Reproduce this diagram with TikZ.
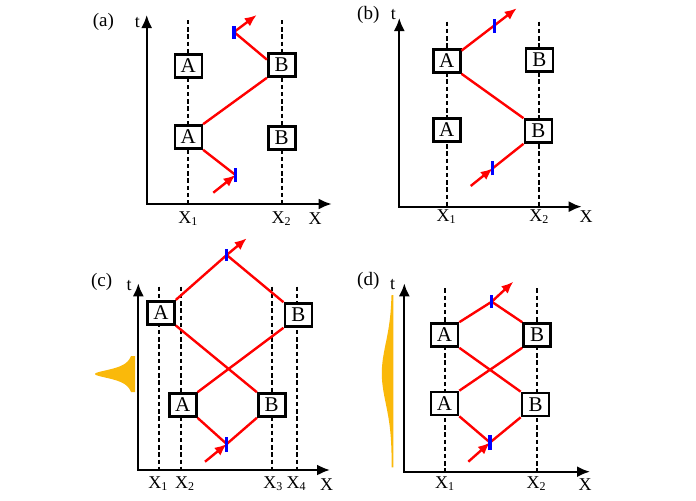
\documentclass[tikz,border=0pt]{standalone}
\usepackage{fontspec}
\setmainfont{Liberation Serif}
\usetikzlibrary{arrows.meta}

\definecolor{pulse}{RGB}{250,185,10}

\tikzset{
	box/.style={draw, line width=1.3pt, fill=white, minimum width=13.5pt, minimum height=11.5pt, inner sep=0pt, font=\fontsize{10.5}{11}\selectfont},
	taxis/.style={line width=1.1pt, {Latex[length=6.5pt,width=5.5pt]}-{Latex[length=6.5pt,width=5.5pt]}},
	dline/.style={line width=0.9pt, dash pattern=on 2.2pt off 1.4pt},
	ray/.style={red, line width=1.2pt},
	rayin/.style={ray, -{Latex[length=6pt,width=5pt]}},
	blip/.style={blue, line width=1.7pt},
	lbl/.style={anchor=base, inner sep=0pt, font=\fontsize{9}{10}\selectfont},
	tag/.style={anchor=base, inner sep=0pt, font=\fontsize{9.5}{10}\selectfont},
}

\begin{document}
\begin{tikzpicture}[x=0.5pt,y=0.5pt]
	\useasboundingbox (0,0) rectangle (696,500);
	
	% (a)
	\coordinate (aO) at (146.7,296);
	\coordinate (aT) at (146.7,485);
	\coordinate (aX) at (331.7,296);
	\foreach \x in {188.3,281.7} \draw[dline] (\x,480) -- (\x,296);
	\draw[taxis] (aT) -- (aO) -- (aX);
	
	\node[box] (aA1) at (188.3,363) {A};
	\node[box] (aA2) at (188.3,434) {A};
	\node[box] (aB1) at (281.7,362) {B};
	\node[box] (aB2) at (281.7,435) {B};
	
	\coordinate (aS) at (213.3,307.3);
	\coordinate (aT1) at (235.5,325);
	\coordinate (aT2) at (234,468);
	\coordinate (aE) at (256.7,485);
	\draw[rayin] (aS) -- (aT1);
	\draw[ray] (aT1) -- (aA1.south east);
	\draw[ray] (aA1.north east) -- (aB2.south west);
	\draw[ray] (aB2.160) -- (aT2);
	\draw[rayin] (aT2) -- (aE);
	\draw[blip] (aT1) ++(0,-7) -- ++(0,14);
	\draw[blip] (aT2) ++(0,-6.5) -- ++(0,13);
	
	\node[tag] (aL) at (103.3,473.3) {(a)};
	\node[lbl] (at) at (137.3,473) {t};
	\node[lbl] (ax1) at (188.3,277) {X\textsubscript{1}};
	\node[lbl] (ax2) at (281.7,277) {X\textsubscript{2}};
	\node[lbl] (ax) at (315,276) {X};
	
	% (b)
	\coordinate (bO) at (399.3,293.3);
	\coordinate (bT) at (399.3,482);
	\coordinate (bX) at (581.7,293.3);
	\foreach \x in {446.7,539.3} \draw[dline] (\x,478.3) -- (\x,293.3);
	\draw[taxis] (bT) -- (bO) -- (bX);
	
	\node[box] (bA1) at (446.7,370) {A};
	\node[box] (bA2) at (446.7,439) {A};
	\node[box] (bB1) at (538.3,369) {B};
	\node[box] (bB2) at (539.3,440) {B};
	
	\coordinate (bS) at (470.7,314);
	\coordinate (bT1) at (492.7,331.7);
	\coordinate (bT2) at (494.3,474.5);
	\coordinate (bE) at (516.7,491.7);
	\draw[rayin] (bS) -- (bT1);
	\draw[ray] (bT1) -- (bB1.south west);
	\draw[ray] (bA2.south east) -- (bB1.north west);
	\draw[ray] (bA2.35) -- (bT2);
	\draw[rayin] (bT2) -- (bE);
	\draw[blip] (bT1) ++(0,-7) -- ++(0,14);
	\draw[blip] (bT2) ++(0,-7) -- ++(0,14);
	
	\node[tag] (bL) at (368.3,480.7) {(b)};
	\node[lbl] (bt) at (393.3,480.7) {t};
	\node[lbl] (bx1) at (446.7,278.3) {X\textsubscript{1}};
	\node[lbl] (bx2) at (539.3,278.3) {X\textsubscript{2}};
	\node[lbl] (bx) at (586,277.3) {X};
	
	% (c)
	\fill[pulse] (135,144) -- plot[domain=18:-18, samples=61] ({135-40/(1+(\x/6)*(\x/6))}, {126+\x}) -- (135,108) -- cycle;
	\coordinate (cO) at (138.3,30);
	\coordinate (cT) at (138.3,216.7);
	\coordinate (cX) at (330,30);
	\foreach \x in {159.3,181,272.3,297.3} \draw[dline] (\x,213.3) -- (\x,30);
	\draw[taxis] (cT) -- (cO) -- (cX);
	
	\node[box] (cA1) at (182.7,95) {A};
	\node[box] (cA2) at (161,187.3) {A};
	\node[box] (cB1) at (271.7,95) {B};
	\node[box] (cB2) at (298.3,185) {B};
	
	\coordinate (cS) at (205,38.3);
	\coordinate (cT1) at (226.7,56);
	\coordinate (cT2) at (226.7,245);
	\coordinate (cE) at (246.7,261.7);
	\draw[ray] (cA2.north east) -- (cT2) -- (cB2.north west);
	\draw[rayin] (cT2) -- (cE);
	\draw[ray] (cB2.south west) -- (cA1.north east);
	\draw[ray] (cA2.south east) -- (cB1.north west);
	\draw[ray] (cA1.south east) -- (cT1) -- (cB1.south west);
	\draw[rayin] (cS) -- (cT1);
	\draw[blip] (cT1) ++(0,-7.5) -- ++(0,15);
	\draw[blip] (cT2) ++(0,-6) -- ++(0,12);
	
	\node[tag] (cL) at (101.7,214) {(c)};
	\node[lbl] (ct) at (129,210) {t};
	\node[lbl] (cx1) at (158.3,11.7) {X\textsubscript{1}};
	\node[lbl] (cx2) at (185,11.7) {X\textsubscript{2}};
	\node[lbl] (cx3) at (273.3,11.7) {X\textsubscript{3}};
	\node[lbl] (cx4) at (296.7,11.7) {X\textsubscript{4}};
	\node[lbl] (cx) at (326.7,10) {X};
	
	% (d)
	\fill[pulse] (393.3,205) -- plot[domain=78:-94, samples=90] ({391.8-10*exp(-(\x*\x)/1800)}, {126.7+\x}) -- (393.3,32.7) -- cycle;
	\coordinate (dO) at (404.3,28.3);
	\coordinate (dT) at (404.3,216.7);
	\coordinate (dX) at (590,28.3);
	\foreach \x in {445,536.7} \draw[dline] (\x,211.7) -- (\x,28.3);
	\draw[taxis] (dT) -- (dO) -- (dX);
	
	\node[box] (dA1) at (444.5,96.5) {A};
	\node[box] (dA2) at (444.5,165) {A};
	\node[box] (dB1) at (535.5,95.5) {B};
	\node[box] (dB2) at (537,165) {B};
	
	\coordinate (dS) at (468.3,38.3);
	\coordinate (dT1) at (490,57.5);
	\coordinate (dT2) at (491.7,198.3);
	\coordinate (dE) at (513.3,218.3);
	\draw[ray] (dA2.north east) -- (dT2) -- (dB2.north west);
	\draw[rayin] (dT2) -- (dE);
	\draw[ray] (dB2.south west) -- (dA1.north east);
	\draw[ray] (dA2.south east) -- (dB1.north west);
	\draw[ray] (dA1.south east) -- (dT1) -- (dB1.south west);
	\draw[rayin] (dS) -- (dT1);
	\draw[blip] (dT1) ++(0,-7.5) -- ++(0,15);
	\draw[blip] (dT2) ++(0,-6.5) -- ++(0,13);
	
	\node[tag] (dL) at (368.3,215) {(d)};
	\node[lbl] (dt) at (392.7,210.7) {t};
	\node[lbl] (dx1) at (445,11.7) {X\textsubscript{1}};
	\node[lbl] (dx2) at (536.7,11.7) {X\textsubscript{2}};
	\node[lbl] (dx) at (585,10) {X};
	
\end{tikzpicture}
\end{document}
